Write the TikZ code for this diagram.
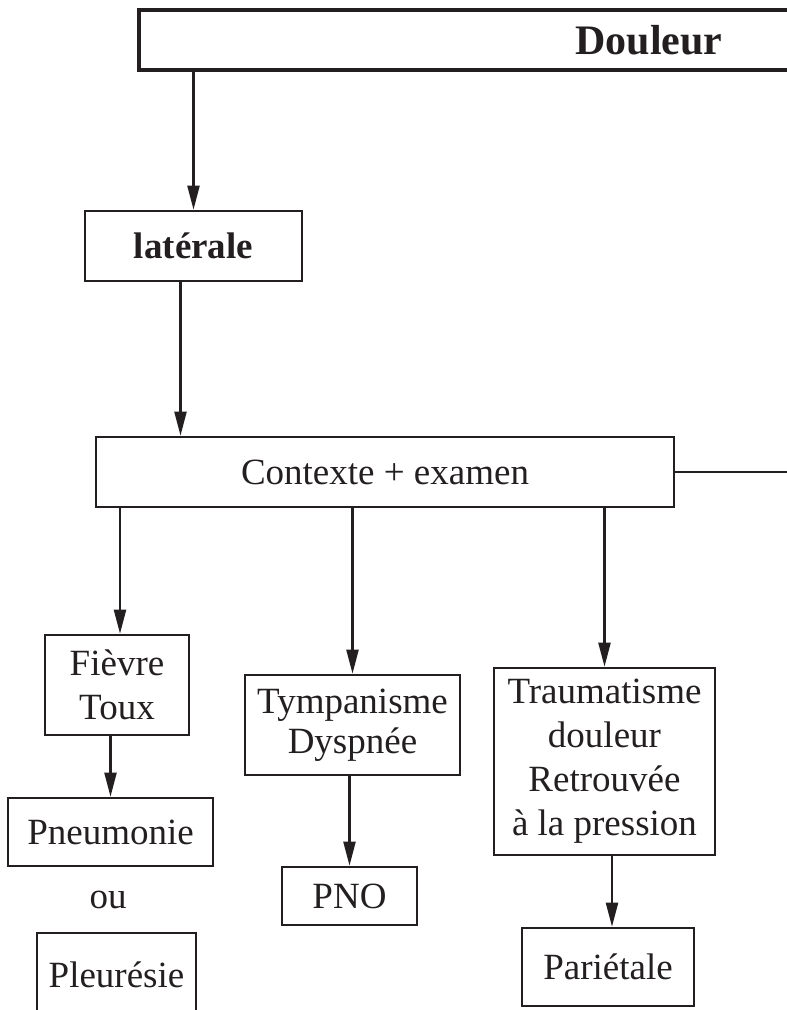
\documentclass[tikz,border=0pt]{standalone}
\usepackage{fontspec}
\setmainfont{Liberation Serif}
\usetikzlibrary{arrows.meta}
\definecolor{ink}{RGB}{35,31,32}
\begin{document}
\begin{tikzpicture}[x=1pt,y=-1pt,
  box/.style={draw=ink, line width=2.6pt, rectangle, inner sep=0pt,
    align=center, text=ink, font=\fontsize{37}{44}\selectfont},
  plain/.style={inner sep=0pt, text=ink, font=\fontsize{37}{44}\selectfont},
  link/.style={draw=ink, line width=2.2pt},
  arr/.style={link, -{Triangle[length=24pt,width=12pt]}}]
\useasboundingbox (0,0) rectangle (787,1010);
\clip (0,0) rectangle (787,1010);

% title bar, running off the right edge
\node[box, line width=4pt, minimum width=661pt, minimum height=60pt,
  label={[xshift=179.5pt, text=ink, font=\fontsize{42}{50}\selectfont\bfseries]center:Douleur}]
  (douleur) at (469.5,40) {};

\node[box, font=\fontsize{37}{44}\selectfont\bfseries,
  minimum width=217pt, minimum height=70pt] (laterale) at (193.5,246) {latérale};

\node[box, minimum width=578pt, minimum height=70pt] (contexte) at (385,472) {Contexte + examen};
\coordinate (exit) at (800,470);

% left branch
\node[box, minimum width=144pt, minimum height=100pt] (fievre) at (117,685) {Fièvre\\Toux};
\node[box, minimum width=205pt, minimum height=68pt] (pneumonie) at (110.5,832) {Pneumonie};
\node[plain] (ou) at (108,900) {ou};
\node[box, minimum width=159pt, minimum height=84pt] (pleuresie) at (116.5,975) {Pleurésie};

% middle branch
\node[box, font=\fontsize{37}{40}\selectfont,
  minimum width=215pt, minimum height=100pt] (tympanisme) at (352.5,725) {Tympanisme\\Dyspnée};
\node[box, minimum width=135pt, minimum height=58pt] (pno) at (349.5,896) {PNO};

% right branch
\node[box, minimum width=221pt, minimum height=187pt] (traumatisme) at (604.5,761.5)
  {Traumatisme\\douleur\\Retrouvée\\à la pression};
\node[box, minimum width=172pt, minimum height=78pt] (parietale) at (608,967) {Pariétale};

% connectors
\draw[arr] (laterale.north |- douleur.south) -- (laterale.north);
\draw[arr] ([xshift=-13pt]laterale.south) -- ([xshift=-13pt]laterale.south |- contexte.north);
\draw[link] (contexte.east) -- (contexte.east -| exit);
\draw[arr] ([xshift=3pt]fievre.north |- contexte.south) -- ([xshift=3pt]fievre.north);
\draw[arr] (tympanisme.north |- contexte.south) -- (tympanisme.north);
\draw[arr] (traumatisme.north |- contexte.south) -- (traumatisme.north);
\draw[arr] (pneumonie.north |- fievre.south) -- (pneumonie.north);
\draw[arr] (pno.north |- tympanisme.south) -- (pno.north);
\draw[arr] ([xshift=4pt]parietale.north |- traumatisme.south) -- ([xshift=4pt]parietale.north);
\end{tikzpicture}
\end{document}
